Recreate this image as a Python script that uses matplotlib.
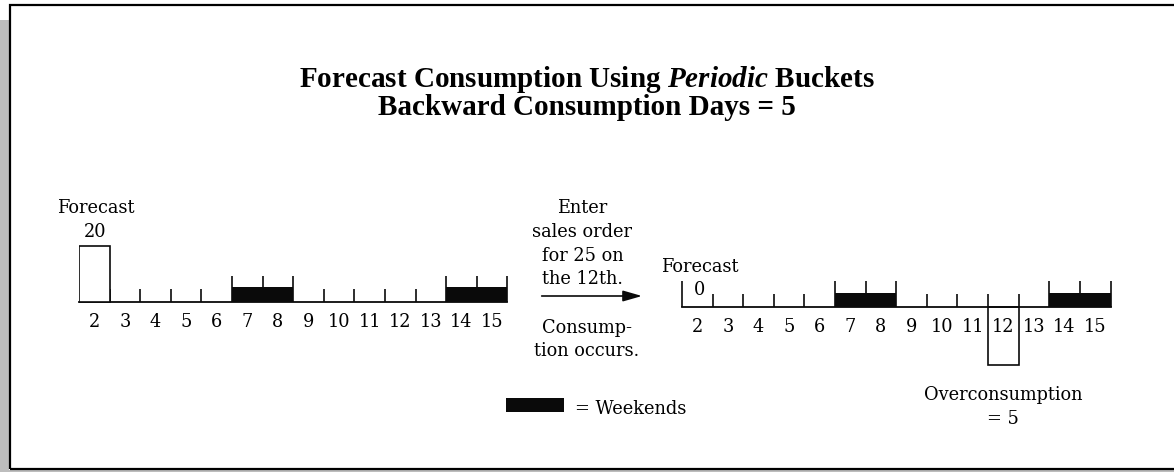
import matplotlib
matplotlib.use("Agg")
import matplotlib.pyplot as plt
from matplotlib.patches import Rectangle, FancyArrowPatch

# ---------------- data ----------------
days = [2, 3, 4, 5, 6, 7, 8, 9, 10, 11, 12, 13, 14, 15]
day_labels = [str(d) for d in days]
weekend_days = [7, 8, 14, 15]
forecast_day = 2
forecast_qty = 20
sales_order_day = 12
sales_order_qty = 25
forecast_after = 0
overconsumption = 5
backward_days = 5

title_line1 = r"Forecast Consumption Using $\mathit{Periodic}$ Buckets"
title_line2 = f"Backward Consumption Days = {backward_days}"
middle_top = ["Enter", "sales order", f"for {sales_order_qty} on", f"the {sales_order_day}th."]
middle_bottom = ["Consump-", "tion occurs."]
legend_label = "= Weekends"
over_label = ["Overconsumption", f"= {overconsumption}"]

# ---------------- style ----------------
plt.rcParams["font.family"] = "DejaVu Serif"
plt.rcParams["mathtext.fontset"] = "custom"
plt.rcParams["mathtext.it"] = "Liberation Serif:italic:bold"
plt.rcParams["mathtext.rm"] = "Liberation Serif:bold"
plt.rcParams["text.color"] = "black"

W, H = 1174, 472
fig = plt.figure(figsize=(W / 100, H / 100), dpi=100)
INK = "#0a0a0a"
BODY = 12.8


def fx(x):
    return x / W


def fy(y):
    return 1 - y / H


# frame with grey shadow
fig.patches.append(Rectangle((0, 0), fx(9), fy(20), transform=fig.transFigure,
                             facecolor="#bdbdbd", edgecolor="none", zorder=0))
fig.patches.append(Rectangle((0, 0), 1, 2 / H, transform=fig.transFigure,
                             facecolor="#bdbdbd", edgecolor="none", zorder=0))
fig.patches.append(Rectangle((fx(9.8), fy(469)), (1200 - 9.8) / W, fy(4.8) - fy(469),
                             transform=fig.transFigure, fill=False,
                             edgecolor="black", lw=1.6, zorder=1))


def timeline(x0, x1, baseline, ppu, ylo, yhi, lead_tick):
    top = baseline - yhi * ppu
    bottom = baseline - ylo * ppu
    ax = fig.add_axes([fx(x0), fy(bottom), (x1 - x0) / W, (bottom - top) / H])
    ax.set_xlim(days[0] - 0.5, days[-1] + 0.5)
    ax.set_ylim(ylo, yhi)
    ax.patch.set_visible(False)
    for s in ("left", "right", "top"):
        ax.spines[s].set_visible(False)
    ax.spines["bottom"].set_position(("data", 0))
    ax.spines["bottom"].set_linewidth(1.3)
    ax.spines["bottom"].set_color(INK)
    ax.set_yticks([])
    ax.set_xticks(days, day_labels)
    ax.tick_params(axis="x", length=0, pad=8, labelsize=BODY, colors="black")
    short, tall, wk = 13 / ppu, 26 / ppu, 14.5 / ppu
    ax.bar(weekend_days, wk, width=1, color=INK, lw=0, zorder=2)
    bounds = [d + 0.5 for d in days]
    heights = [tall if (d in weekend_days or d + 1 in weekend_days) else short for d in days]
    if lead_tick:
        bounds.insert(0, days[0] - 0.5)
        heights.insert(0, tall)
    ax.vlines(bounds, 0, heights, colors=INK, lw=1.2, zorder=3, clip_on=False)
    return ax


# left: before the sales order
axL = timeline(79, 507.4, 301.7, 55.7 / forecast_qty, -12, 25, False)
axL.bar(forecast_day, forecast_qty, width=1, facecolor="white", edgecolor=INK, lw=1.2, zorder=3)
axL.annotate(str(forecast_qty), xy=(forecast_day, forecast_qty), xytext=(1, 8.7),
             textcoords="offset pixels", ha="center", va="baseline", fontsize=BODY)
axL.annotate("Forecast", xy=(forecast_day, forecast_qty), xytext=(1, 32.7),
             textcoords="offset pixels", ha="center", va="baseline", fontsize=BODY)

# right: after consumption
axR = timeline(682, 1110.5, 307.3, 58 / overconsumption, -6, 3, True)
axR.bar(sales_order_day, -overconsumption, width=1, fill=False, edgecolor=INK, lw=1.2, zorder=3)
axR.annotate(str(forecast_after), xy=(forecast_day, forecast_after), xytext=(2, 12.3),
             textcoords="offset pixels", ha="center", va="baseline", fontsize=BODY)
axR.annotate("Forecast", xy=(forecast_day, forecast_after), xytext=(2, 35.6),
             textcoords="offset pixels", ha="center", va="baseline", fontsize=BODY)
for txt, off in zip(over_label, (-35, -58.3)):
    axR.annotate(txt, xy=(sales_order_day, -overconsumption), xytext=(0, off),
                 textcoords="offset pixels", ha="center", va="baseline", fontsize=BODY)

# title
fig.text(fx(586.5), fy(87), title_line1, ha="center", va="baseline",
         fontsize=21, fontweight="bold", family="Liberation Serif")
fig.text(fx(586.5), fy(115), title_line2, ha="center", va="baseline",
         fontsize=21, fontweight="bold", family="Liberation Serif")

# middle explanation
for txt, yb in zip(middle_top, (213.3, 237.3, 260.7, 284)):
    fig.text(fx(582.5), fy(yb), txt, ha="center", va="baseline", fontsize=BODY)
for txt, yb in zip(middle_bottom, (333.3, 356)):
    fig.text(fx(587), fy(yb), txt, ha="center", va="baseline", fontsize=BODY)
fig.patches.append(FancyArrowPatch((fx(541.7), fy(296)), (fx(642), fy(296)),
                                   transform=fig.transFigure,
                                   arrowstyle="-|>,head_length=1.15,head_width=0.33",
                                   mutation_scale=10, color=INK, lw=1.2,
                                   shrinkA=0, shrinkB=0))

# legend
fig.patches.append(Rectangle((fx(505.7), fy(411.7)), (564 - 505.7) / W, fy(398.3) - fy(411.7),
                             transform=fig.transFigure, facecolor=INK, edgecolor="none"))
fig.text(fx(575), fy(414), legend_label, ha="left", va="baseline", fontsize=BODY)

fig.savefig("out.png", dpi=100)
